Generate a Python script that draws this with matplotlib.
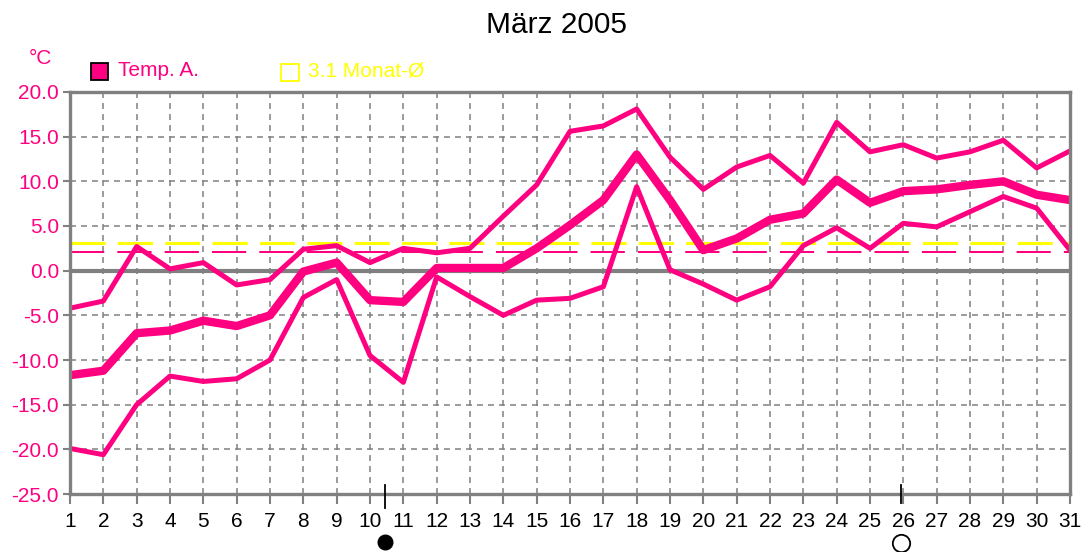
# Temperaturverlauf Maerz 2005 - nachgebaut mit matplotlib

import matplotlib
matplotlib.use("Agg")
import matplotlib.pyplot as plt
import matplotlib.transforms as mtransforms
from matplotlib.patches import Rectangle
from matplotlib import font_manager

# daten
days = list(range(1, 32))
temp_max = [-4.2, -3.4, 2.7, 0.2, 0.9, -1.6, -1.0, 2.4, 2.8, 0.9,
            2.5, 2.0, 2.5, 6.1, 9.6, 15.6, 16.2, 18.1, 12.7, 9.1,
            11.6, 12.9, 9.8, 16.6, 13.3, 14.1, 12.6, 13.3, 14.6, 11.5, 13.4]
temp_mean = [-11.7, -11.2, -7.0, -6.7, -5.6, -6.2, -5.0, -0.1, 0.9, -3.3,
             -3.5, 0.3, 0.3, 0.3, 2.5, 5.1, 7.9, 13.0, 7.9, 2.3,
             3.6, 5.7, 6.4, 10.2, 7.6, 8.9, 9.1, 9.6, 10.0, 8.5, 7.9]
temp_min = [-19.9, -20.6, -15.0, -11.8, -12.4, -12.1, -10.0, -3.0, -1.0, -9.5,
            -12.5, -0.7, -2.9, -5.0, -3.3, -3.1, -1.8, 9.4, 0.1, -1.5,
            -3.3, -1.8, 2.8, 4.8, 2.5, 5.3, 4.9, 6.6, 8.3, 7.0, 2.3]
month_mean = 2.1        # rosa gestrichelt
longterm_mean = 3.1     # gelb gestrichelt (Monat-Ø)
yticks = [20, 15, 10, 5, 0, -5, -10, -15, -20, -25]
new_moon_day = 10.45
full_moon_day = 25.93

PINK = "#ff0080"
YELLOW = "#ffff00"
GRAY = "#808080"

# schmale schrift falls vorhanden
installed = {f.name for f in font_manager.fontManager.ttflist}
small_font = [f for f in ["Liberation Sans Narrow", "DejaVu Sans Condensed", "Liberation Sans"]
              if f in installed] + ["DejaVu Sans"]
narrow = small_font[0] != "Liberation Sans"
fs = 17.5 if narrow else 15

fig = plt.figure(figsize=(10.85, 5.52), dpi=100)
ax = fig.add_axes([70 / 1085, 58 / 552, 1000 / 1085, 402 / 552])

# gitter
for d in days[1:-1]:
    ax.axvline(d, color=GRAY, lw=1.1, dashes=(3.9, 3.3), zorder=1)
for t in yticks[1:-1]:
    if t != 0:
        ax.axhline(t, color=GRAY, lw=1.1, dashes=(3.9, 3.3), zorder=1)
ax.axhline(0, color=GRAY, lw=3, zorder=2)

# mittelwerte
ax.axhline(longterm_mean, color=YELLOW, lw=2.2, dashes=(11.5, 4), zorder=3)
ax.axhline(month_mean, color=PINK, lw=1.45, dashes=(17, 6.5), zorder=3)

# temperaturen
ax.plot(days, temp_max, color=PINK, lw=3.6, zorder=4)
ax.plot(days, temp_min, color=PINK, lw=3.6, zorder=4)
ax.plot(days, temp_mean, color=PINK, lw=6.0, zorder=5)

ax.set_xlim(1, 31)
ax.set_ylim(-25, 20)
ax.set_xticks(days)
ax.set_xticklabels([str(d) for d in days], family=small_font, fontsize=fs, color="black")
ax.set_yticks(yticks)
ax.set_yticklabels([f"{t:.1f}" for t in yticks], family=small_font, fontsize=fs, color=PINK)
ax.tick_params(axis="x", length=7, width=1.5, color=GRAY, pad=6)
ax.tick_params(axis="y", length=5, width=1.5, color=GRAY, pad=3)
for side in ["left", "bottom", "right", "top"]:
    ax.spines[side].set_color(GRAY)
    ax.spines[side].set_linewidth(2.4)
    ax.spines[side].set_zorder(6)

# mondphasen
trans = mtransforms.blended_transform_factory(ax.transData, ax.transAxes)
ax.plot([new_moon_day, new_moon_day], [0.022, -0.035], color="black", lw=1.3,
        transform=trans, clip_on=False, zorder=7)
ax.plot([full_moon_day, full_moon_day], [0.022, -0.022], color="black", lw=1.3,
        transform=trans, clip_on=False, zorder=7)
ax.plot([new_moon_day], [-0.119], marker="o", ms=10.5, color="black",
        transform=trans, clip_on=False)
ax.plot([full_moon_day], [-0.122], marker="o", ms=12.5, mfc="white", mec="black",
        mew=1.3, transform=trans, clip_on=False)

# titel, einheit, legende
fig.text(556 / 1085, 1 - 25 / 552, "März 2005", ha="center", va="center",
         fontsize=21.5, family=["Liberation Sans", "DejaVu Sans"])
fig.text(40 / 1085, 1 - 59 / 552, "°C", ha="center", va="center",
         fontsize=fs, family=small_font, color=PINK)
fig.patches.append(Rectangle((91 / 1085, 1 - 80 / 552), 17 / 1085, 17 / 552,
                             transform=fig.transFigure, facecolor=PINK,
                             edgecolor="black", lw=1.3))
fig.text(118 / 1085, 1 - 71 / 552, "Temp. A.", ha="left", va="center",
         fontsize=fs, family=small_font, color=PINK)
fig.patches.append(Rectangle((281 / 1085, 1 - 81 / 552), 18 / 1085, 17 / 552,
                             transform=fig.transFigure, facecolor="none",
                             edgecolor=YELLOW, lw=1.3))
fig.text(308 / 1085, 1 - 71 / 552, "3.1 Monat-Ø", ha="left", va="center",
         fontsize=fs, family=small_font, color=YELLOW)

plt.savefig("out.png", dpi=100)
